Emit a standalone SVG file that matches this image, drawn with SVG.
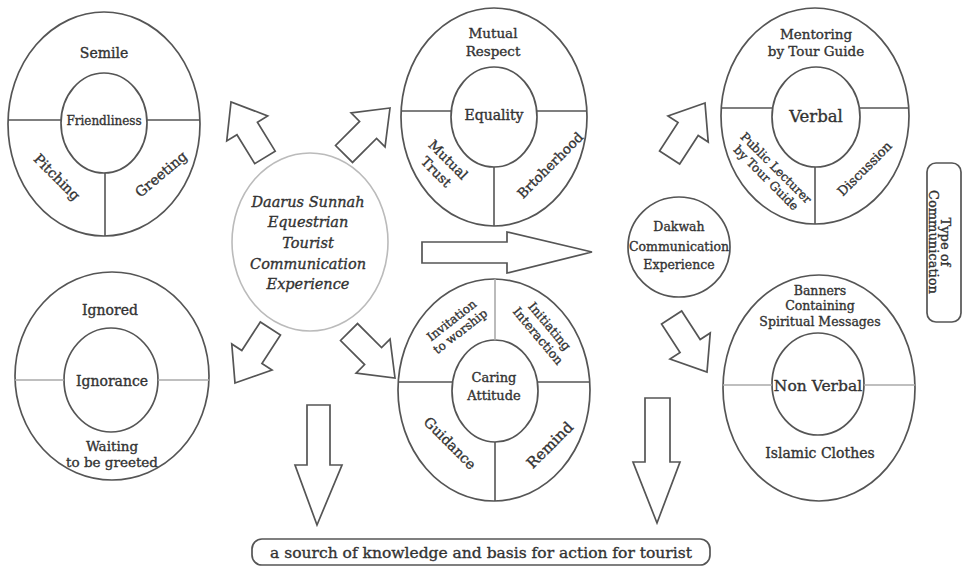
<svg xmlns="http://www.w3.org/2000/svg" width="963" height="566" viewBox="0 0 963 566">
<defs>
<style>
.o{fill:none;stroke:#555;stroke-width:1.7}
.l{fill:none;stroke:#555;stroke-width:1.6}
.lg{fill:none;stroke:#aaa;stroke-width:1.6}
.ar{fill:#fff;stroke:#555;stroke-width:1.7;stroke-linejoin:miter}
.t{font-family:"DejaVu Serif","Liberation Serif",serif;fill:#333;stroke:#333;stroke-width:0.35;text-anchor:middle}
.i{font-style:italic}
</style>
<path id="da" d="M0,0 L-31,-24 L-31,-12 L-65,-12 L-65,12 L-31,12 L-31,24 Z"/>
</defs>
<rect width="963" height="566" fill="#fff"/>

<g id="friendliness">
<ellipse class="o" cx="104" cy="124" rx="96" ry="112"/>
<ellipse class="o" cx="104" cy="123" rx="43" ry="50"/>
<line class="l" x1="8" y1="120" x2="61" y2="120"/>
<line class="l" x1="147" y1="120" x2="200" y2="120"/>
<line class="l" x1="105" y1="173" x2="105" y2="236"/>
<text class="t" x="104" y="58" font-size="14">Semile</text>
<text class="t" x="104" y="125" font-size="12">Friendliness</text>
<text class="t" font-size="14" transform="translate(57,177) rotate(45)" y="5">Pitching</text>
<text class="t" font-size="14" transform="translate(161,174) rotate(-40)" y="5">Greeting</text>
</g>

<g id="equality">
<ellipse class="o" cx="494" cy="117" rx="93" ry="109"/>
<ellipse class="o" cx="494" cy="117" rx="43" ry="50"/>
<line class="l" x1="401" y1="111" x2="451" y2="111"/>
<line class="l" x1="537" y1="111" x2="587" y2="111"/>
<line class="l" x1="494" y1="167" x2="494" y2="226"/>
<text class="t" x="493" y="38" font-size="13.5">Mutual</text>
<text class="t" x="493" y="56" font-size="13.5">Respect</text>
<text class="t" x="494" y="120" font-size="14">Equality</text>
<g transform="translate(442,166) rotate(45)">
<text class="t" font-size="13.5" y="-4">Mutual</text>
<text class="t" font-size="13.5" y="13">Trust</text>
</g>
<text class="t" font-size="13.5" transform="translate(550,165) rotate(-45)" y="5">Brtoherhood</text>
</g>

<g id="verbal">
<ellipse class="o" cx="815" cy="116" rx="94" ry="108"/>
<ellipse class="o" cx="816" cy="117" rx="44" ry="50"/>
<line class="l" x1="721" y1="108" x2="772" y2="108"/>
<line class="l" x1="860" y1="108" x2="909" y2="108"/>
<line class="l" x1="815" y1="167" x2="815" y2="224"/>
<text class="t" x="816" y="39" font-size="13.5">Mentoring</text>
<text class="t" x="816" y="56" font-size="13.5">by Tour Guide</text>
<text class="t" x="816" y="122" font-size="16.5">Verbal</text>
<g transform="translate(771,173) rotate(45)">
<text class="t" font-size="12" y="-3">Public Lecturer</text>
<text class="t" font-size="12" y="11">by Tour Guide</text>
</g>
<text class="t" font-size="13" transform="translate(865,169) rotate(-45)" y="4">Discussion</text>
</g>

<g id="ignorance">
<ellipse class="o" cx="112" cy="376" rx="97" ry="104"/>
<ellipse class="o" cx="111" cy="380" rx="47" ry="52"/>
<line class="lg" x1="15" y1="380" x2="64" y2="380"/>
<line class="lg" x1="158" y1="380" x2="209" y2="380"/>
<text class="t" x="110" y="315" font-size="14">Ignored</text>
<text class="t" x="112" y="386" font-size="14">Ignorance</text>
<text class="t" x="112" y="451" font-size="13.5">Waiting</text>
<text class="t" x="112" y="467" font-size="13.5">to be greeted</text>
</g>

<g id="caring">
<ellipse class="o" cx="494" cy="390" rx="96" ry="111"/>
<ellipse class="o" cx="495" cy="391" rx="43" ry="51"/>
<line class="l" x1="398" y1="382" x2="452" y2="382"/>
<line class="l" x1="538" y1="382" x2="590" y2="382"/>
<line class="lg" x1="495" y1="279" x2="495" y2="340"/>
<line class="l" x1="495" y1="442" x2="495" y2="501"/>
<text class="t" x="494" y="382" font-size="13">Caring</text>
<text class="t" x="494" y="400" font-size="13">Attitude</text>
<g transform="translate(456,326) rotate(-38)">
<text class="t" font-size="12" y="-3">Invitation</text>
<text class="t" font-size="12" y="11">to worship</text>
</g>
<g transform="translate(544,331) rotate(50)">
<text class="t" font-size="12.5" y="-3">Initiating</text>
<text class="t" font-size="12.5" y="12">Interaction</text>
</g>
<text class="t" font-size="14" transform="translate(450,443) rotate(45)" y="5">Guidance</text>
<text class="t" font-size="15" transform="translate(550,445) rotate(-45)" y="5">Remind</text>
</g>

<g id="nonverbal">
<ellipse class="o" cx="819" cy="388" rx="96" ry="113"/>
<ellipse class="o" cx="818" cy="384" rx="46" ry="51"/>
<line class="lg" x1="723" y1="385" x2="772" y2="385"/>
<line class="lg" x1="864" y1="385" x2="915" y2="385"/>
<text class="t" x="820" y="295" font-size="12.5">Banners</text>
<text class="t" x="820" y="310" font-size="12.5">Containing</text>
<text class="t" x="820" y="326" font-size="12.5">Spiritual Messages</text>
<text class="t" x="818" y="391" font-size="15.5">Non Verbal</text>
<text class="t" x="820" y="458" font-size="14">Islamic Clothes</text>
</g>

<g id="center">
<ellipse cx="310" cy="242" rx="78" ry="89" fill="none" stroke="#bbb" stroke-width="1.6"/>
<text class="t i" x="308" y="207" font-size="14.5">Daarus Sunnah</text>
<text class="t i" x="308" y="227" font-size="14.5">Equestrian</text>
<text class="t i" x="308" y="248" font-size="14.5">Tourist</text>
<text class="t i" x="308" y="269" font-size="14.5">Communication</text>
<text class="t i" x="308" y="289" font-size="14.5">Experience</text>
</g>

<g id="dakwah">
<ellipse class="o" cx="679" cy="247" rx="51" ry="50"/>
<text class="t" x="679" y="231" font-size="12.5">Dakwah</text>
<text class="t" x="679" y="251" font-size="12.5">Communication</text>
<text class="t" x="679" y="269" font-size="12.5">Experience</text>
</g>

<g id="type">
<rect class="o" x="927" y="163" width="34" height="159" rx="9"/>
<text class="t" font-size="13" x="941" y="242" transform="rotate(90 941 242)">Type of</text>
<text class="t" font-size="13" x="929" y="242" transform="rotate(90 929 242)">Communication</text>
</g>

<g id="result">
<rect class="o" x="252" y="539" width="458" height="26" rx="10"/>
<text class="t" x="481" y="558" font-size="15.5">a sourch of knowledge and basis for action for tourist</text>
</g>

<g id="connectors">
<use href="#da" class="ar" transform="translate(231,102) rotate(-121.5)"/>
<use href="#da" class="ar" transform="translate(390,108) rotate(-45)"/>
<use href="#da" class="ar" transform="translate(235,383) rotate(123)"/>
<use href="#da" class="ar" transform="translate(395,378) rotate(45)"/>
<use href="#da" class="ar" transform="translate(705,103) rotate(-57)"/>
<use href="#da" class="ar" transform="translate(707,372) rotate(57)"/>
<polygon class="ar" points="422,242 507,242 507,232 592,252 507,273 507,263 422,263"/>
<polygon class="ar" points="307,405 330,405 330,465 342,465 317,525 295,465 307,465"/>
<polygon class="ar" points="645,398 670,398 670,462 680,462 657,523 633,462 645,462"/>
</g>
</svg>
